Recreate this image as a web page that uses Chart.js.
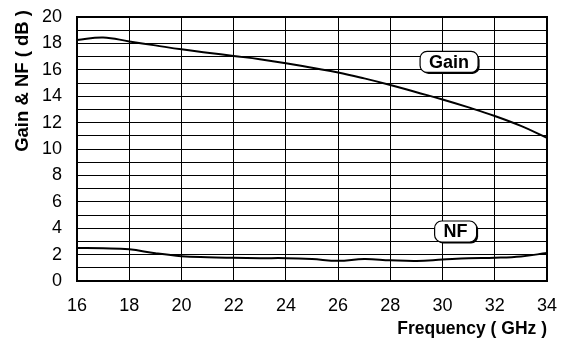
<!DOCTYPE html>
<html lang="en">
<head>
    <meta charset="UTF-8">
    <title>Gain & NF vs Frequency</title>
    <script src="https://cdn.jsdelivr.net/npm/chart.js"></script>
    <style>
        html, body { margin: 0; padding: 0; background: #fff; }
        .chart-container { width: 567px; height: 341px; }
    </style>
</head>
<body>
    <div class="chart-container">
        <canvas id="gainChart"></canvas>
    </div>
    <script>
        // values
        const freqGHz = [16, 17, 18, 19, 20, 21, 22, 23, 24, 25, 26, 27, 28, 29, 30, 31, 32, 33, 34];
        const gainDb  = [18.25, 18.45, 18.15, 17.85, 17.55, 17.3, 17.05, 16.8, 16.5, 16.15, 15.8, 15.35, 14.85, 14.3, 13.75, 13.15, 12.5, 11.75, 10.85];
        const nfDb    = [2.5, 2.48, 2.4, 2.1, 1.88, 1.8, 1.76, 1.73, 1.73, 1.66, 1.53, 1.66, 1.57, 1.52, 1.62, 1.72, 1.76, 1.86, 2.12];
        const yTicks  = [0, 2, 4, 6, 8, 10, 12, 14, 16, 18, 20];
        const curveLabels = [
            { text: "Gain", x: 30.25, y: 16.6 },
            { text: "NF",   x: 30.5,  y: 3.75 }
        ];
        const yTitle = 'Gain & NF ( dB )';

        const FONT = '"Liberation Sans", Arial, sans-serif';
        const toPoints = (xs, ys) => xs.map((x, i) => ({ x: x, y: ys[i] }));

        // thick frame, y title, rounded curve labels
        const framePlugin = {
            id: 'frame',
            afterDatasetsDraw(chart) {
                const { ctx, chartArea: a, scales } = chart;
                ctx.save();
                ctx.strokeStyle = '#000';
                ctx.lineWidth = 2;
                ctx.strokeRect(a.left, a.top, a.right - a.left, a.bottom - a.top);

                // y axis title, ending a bit above the plot top
                ctx.save();
                ctx.translate(23, a.top - 7);
                ctx.rotate(-Math.PI / 2);
                ctx.font = 'bold 18.5px ' + FONT;
                ctx.textAlign = 'right';
                ctx.textBaseline = 'middle';
                ctx.fillStyle = '#000';
                ctx.fillText(yTitle, 0, 0);
                ctx.restore();

                ctx.font = 'bold 18px ' + FONT;
                ctx.textAlign = 'center';
                ctx.textBaseline = 'middle';
                curveLabels.forEach(l => {
                    const cx = scales.x.getPixelForValue(l.x);
                    const cy = scales.y.getPixelForValue(l.y);
                    const w = ctx.measureText(l.text).width + 18;
                    const h = 21;
                    // shadow
                    ctx.beginPath();
                    ctx.roundRect(cx - w / 2 + 1.5, cy - h / 2 + 1.5, w, h, 7);
                    ctx.fillStyle = '#000';
                    ctx.fill();
                    ctx.beginPath();
                    ctx.roundRect(cx - w / 2, cy - h / 2, w, h, 7);
                    ctx.fillStyle = '#fff';
                    ctx.fill();
                    ctx.lineWidth = 1.2;
                    ctx.strokeStyle = '#000';
                    ctx.stroke();
                    ctx.fillStyle = '#000';
                    ctx.fillText(l.text, cx, cy + 1);
                });
                ctx.restore();
            }
        };

        const ctx = document.getElementById('gainChart').getContext('2d');
        new Chart(ctx, {
            type: 'line',
            data: {
                datasets: [
                    { label: 'Gain', data: toPoints(freqGHz, gainDb) },
                    { label: 'NF', data: toPoints(freqGHz, nfDb) }
                ]
            },
            options: {
                responsive: true,
                maintainAspectRatio: false,
                animation: false,
                layout: { padding: { left: 8, right: 20, top: 17, bottom: 1 } },
                elements: {
                    line: { borderColor: '#000', borderWidth: 2, tension: 0.4, fill: false },
                    point: { radius: 0 }
                },
                plugins: {
                    legend: { display: false },
                    tooltip: { enabled: false }
                },
                scales: {
                    x: {
                        type: 'linear',
                        min: 16,
                        max: 34,
                        ticks: {
                            stepSize: 2,
                            color: '#000',
                            padding: 14,
                            font: { family: FONT, size: 18 }
                        },
                        grid: { color: '#000', lineWidth: 1, drawTicks: false },
                        border: { color: '#000', width: 2 },
                        title: {
                            display: true,
                            text: 'Frequency ( GHz )',
                            align: 'end',
                            color: '#000',
                            padding: { top: 0, bottom: 0 },
                            font: { family: FONT, size: 17.5, weight: 'bold' }
                        },
                        afterFit(scale) {
                            scale.height = 59;
                            scale.paddingLeft = 0;
                            scale.paddingRight = 0;
                        }
                    },
                    y: {
                        min: 0,
                        max: 20,
                        afterBuildTicks(scale) {
                            const t = [];
                            for (let v = 0; v <= 20; v++) t.push({ value: v });
                            scale.ticks = t;
                        },
                        ticks: {
                            color: '#000',
                            padding: 15,
                            autoSkip: false,
                            callback: v => yTicks.includes(v) ? String(v) : '',
                            font: { family: FONT, size: 18 }
                        },
                        grid: { color: '#000', lineWidth: 1, drawTicks: false },
                        border: { color: '#000', width: 2 },
                        afterFit(scale) {
                            scale.width = 69;
                            scale.paddingTop = 0;
                            scale.paddingBottom = 0;
                        }
                    }
                }
            },
            plugins: [framePlugin]
        });
    </script>
</body>
</html>
